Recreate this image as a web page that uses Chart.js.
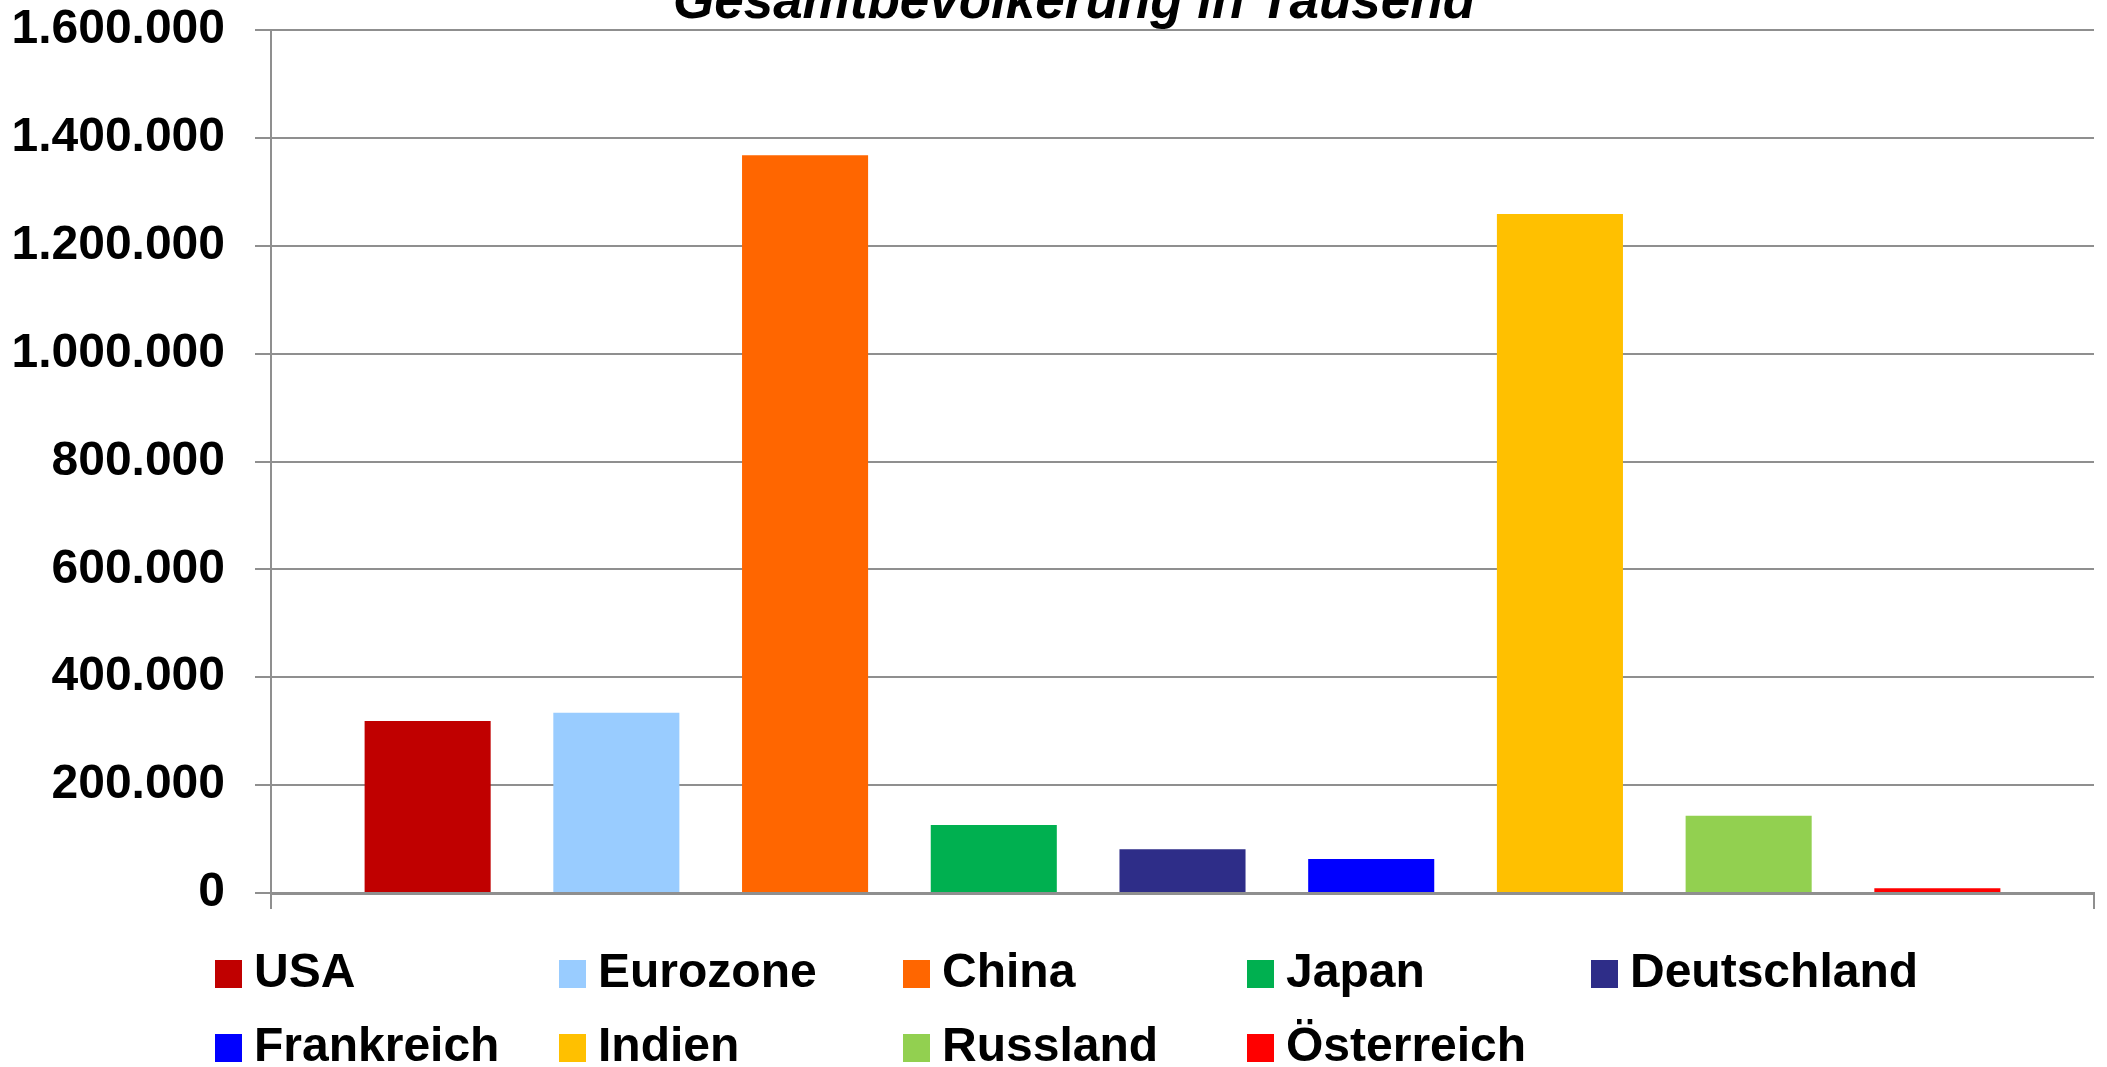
<!DOCTYPE html>
<html><head><meta charset="utf-8">
<script src="https://cdn.jsdelivr.net/npm/chart.js@4.4.1/dist/chart.umd.min.js"></script>
<style>
html,body{margin:0;padding:0;overflow:hidden;background:#fff;width:2107px;height:1067px}
#c{position:absolute;left:0;top:-23px}
</style></head>
<body><canvas id="c" width="2107" height="1102"></canvas>
<script>
const chartTitle = 'Gesamtbevölkerung in Tausend';
const categories = ['USA', 'Eurozone', 'China', 'Japan', 'Deutschland', 'Frankreich', 'Indien', 'Russland', 'Österreich'];
const population = [319000, 334000, 1368000, 126000, 81000, 63000, 1259000, 143000, 8600];
const barColors = ['#C00000', '#99CCFF', '#FF6600', '#00B050', '#2E2D88', '#0000FF', '#FFC000', '#92D050', '#FF0000'];
const yTickValues = [0, 200000, 400000, 600000, 800000, 1000000, 1200000, 1400000, 1600000];

function fmtDE(v) { return String(Math.round(v)).replace(/\B(?=(\d{3})+(?!\d))/g, '.'); }

const FONT = "'Liberation Sans', Arial, sans-serif";
const GRID = '#8f8f8f';
const X_MIN = -0.83, X_MAX = 8.83;
const LEGEND_TEXT_W = 290;
const LEGEND_DX = -71;
const LEGEND_DY = 3;
const TITLE_DX = 27;

function swatch(color) {
  const c = document.createElement('canvas');
  c.width = 27; c.height = 28;
  const g = c.getContext('2d');
  g.fillStyle = color; g.fillRect(0, 0, 27, 28);
  return c;
}
const swatches = barColors.map(swatch);

const layoutTweaks = {
  id: 'layoutTweaks',
  afterInit(chart) {
    const lg = chart.legend;
    if (lg) {
      const texts = new Set(categories);
      const withFixed = (fn) => {
        const ctx = lg.ctx;
        const orig = CanvasRenderingContext2D.prototype.measureText;
        ctx.measureText = function (t) {
          const m = orig.call(ctx, t);
          if (texts.has(t)) return { width: Math.max(m.width, LEGEND_TEXT_W) };
          return m;
        };
        try { return fn(); } finally { delete ctx.measureText; }
      };
      const fit = lg.fit.bind(lg);
      lg.fit = function () { return withFixed(() => fit()); };
      const innerDraw = lg._draw.bind(lg);
      lg.draw = function () {
        if (!lg.options.display) return;
        const ctx = lg.ctx;
        ctx.save();
        ctx.translate(LEGEND_DX, LEGEND_DY);
        try { withFixed(() => innerDraw()); } finally { ctx.restore(); }
      };
    }
    const tb = chart.titleBlock;
    if (tb) {
      const tdraw = tb.draw.bind(tb);
      tb.draw = function () {
        const ctx = tb.ctx;
        ctx.save();
        ctx.translate(TITLE_DX, 0);
        try { tdraw(); } finally { ctx.restore(); }
      };
    }
  }
};

new Chart(document.getElementById('c'), {
  type: 'bar',
  data: {
    datasets: [{
      label: chartTitle,
      data: population.map((v, i) => ({ x: i, y: v })),
      backgroundColor: barColors,
      borderWidth: 0,
      barPercentage: 0.668,
      categoryPercentage: 1.0
    }]
  },
  plugins: [layoutTweaks],
  options: {
    responsive: false,
    animation: false,
    devicePixelRatio: 1,
    layout: { padding: { left: 0, right: 13, top: 0, bottom: 0 } },
    scales: {
      x: {
        type: 'linear', min: X_MIN, max: X_MAX, offset: false,
        afterBuildTicks: (s) => { s.ticks = [{ value: X_MIN }, { value: X_MAX }]; },
        ticks: { display: false },
        grid: {
          display: true, offset: false, drawOnChartArea: false, drawTicks: true,
          tickLength: 16, lineWidth: 2, color: GRID
        },
        border: { display: true, color: GRID, width: 3 },
        afterFit: (s) => { s.height = 28; }
      },
      y: {
        min: 0, max: 1600000,
        afterBuildTicks: (s) => { s.ticks = yTickValues.map(v => ({ value: v })); },
        ticks: { font: { family: FONT, size: 48, weight: 'bold' }, color: '#000', padding: 30, callback: (v) => fmtDE(v) },
        grid: { color: GRID, lineWidth: 2, tickLength: 16, drawTicks: true },
        border: { display: true, color: GRID, width: 2 },
        afterFit: (s) => { s.width = 271; s.paddingTop = 0; s.paddingBottom = 0; }
      }
    },
    plugins: {
      tooltip: { enabled: false },
      title: {
        display: true, text: chartTitle, color: '#000',
        font: { family: FONT, size: 53, weight: 'bold', style: 'italic', lineHeight: 1.0 },
        padding: { top: 0, bottom: 0 }
      },
      legend: {
        display: true, position: 'bottom', align: 'start', fullSize: false,
        labels: {
          font: { family: FONT, size: 48, weight: 'bold' }, color: '#000',
          padding: 26, usePointStyle: true, pointStyleWidth: 4, boxHeight: 28,
          generateLabels: () => categories.map((t, i) => ({
            text: t, fillStyle: barColors[i], strokeStyle: barColors[i], lineWidth: 0,
            hidden: false, index: i, datasetIndex: 0, pointStyle: swatches[i], fontColor: '#000'
          }))
        }
      }
    }
  }
});
</script>
</body></html>
